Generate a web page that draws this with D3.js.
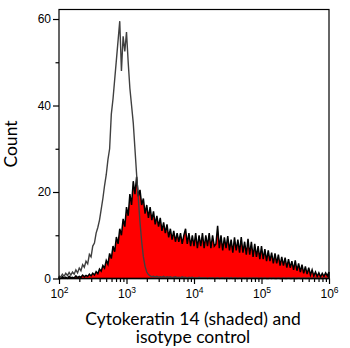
<!DOCTYPE html>
<meta charset="utf-8">
<title>cytokeratin 14 histogram</title>
<style>

body {
  margin: 0;
  background: #fff;
}

svg {
  font-family: Lato, "DejaVu Sans", sans-serif;
}

.frame {
  fill: none;
  stroke: #000;
  stroke-width: 1.2px;
}

.axis path {
  display: none;
}

.axis line {
  stroke: #000;
  stroke-width: 1.2px;
}

.axis text {
  font-size: 12px;
  fill: #000;
}

.shaded {
  fill: #ff0000;
  stroke: #000;
  stroke-width: 1.5px;
  stroke-linejoin: miter;
}

.control {
  fill: none;
  stroke: #404040;
  stroke-width: 1.4px;
}

.title {
  font-size: 17.5px;
  fill: #000;
}

</style>
<body>
<script src="https://cdn.jsdelivr.net/npm/d3@7"></script>
<script>

// channels: log10 fluorescence from 2 to 6, one bin every 0.025 decade
var binStart = 2,
    binStep = 0.025;

// isotype control (open line)
var control = [
  0.6, 0.3, 1.0, 0.5, 1.2, 0.7, 1.4, 0.8, 1.5, 1.0,
  2.0, 1.3, 2.4, 1.8, 3.2, 2.6, 4.0, 3.4, 5.6, 5.0,
  7.5, 8.2, 10.5, 11.8, 13.5, 16.0, 18.5, 21.5, 24.0, 27.5,
  30.0, 38.0, 41.5, 46.0, 50.5, 55.0, 59.5, 48.0, 56.0, 52.5,
  57.0, 50.0, 44.0, 40.0, 36.0, 30.0, 24.0, 18.5, 13.0, 8.5,
  5.0, 2.8, 1.5, 0.9, 0.6, 0.4, 0.5, 0.3, 0.5, 0.3,
  0.4, 0.3, 0.5, 0.2, 0.4, 0.3, 0.4, 0.2, 0.3, 0.4,
  0.2, 0.3, 0.2, 0.4, 0.2, 0.3, 0.1, 0.3, 0.2, 0.3,
  0.1, 0.2, 0.1, 0.3, 0.1, 0.2, 0.1, 0.2, 0.0, 0.2,
  0.1, 0.2, 0.0, 0.1, 0.2, 0.0, 0.1, 0.2, 0.0, 0.1,
  0.1, 0.0, 0.2, 0.0, 0.1, 0.1, 0.0, 0.1, 0.0, 0.1,
  0.0, 0.1, 0.0, 0.1, 0.0, 0.1, 0.0, 0.1, 0.0, 0.0,
  0.1, 0.0, 0.1, 0.0, 0.0, 0.1, 0.0, 0.1, 0.0, 0.0,
  0.1, 0.0, 0.0, 0.1, 0.0, 0.0, 0.1, 0.0, 0.0, 0.1,
  0.0, 0.0, 0.1, 0.0, 0.0, 0.1, 0.0, 0.0, 0.1, 0.0,
  0.0, 0.1, 0.0, 0.0, 0.1, 0.0, 0.0, 0.1, 0.0, 0.0,
  0.1
];

// cytokeratin 14 (shaded)
var shaded = [
  0.2, 0.0, 0.4, 0.1, 0.3, 0.0, 0.5, 0.2, 0.3, 0.1,
  0.6, 0.2, 0.5, 0.3, 0.8, 0.4, 0.7, 0.5, 1.0, 0.6,
  1.2, 0.8, 1.6, 1.1, 2.2, 1.7, 3.0, 2.4, 4.2, 3.3,
  5.8, 4.6, 7.5, 6.2, 9.6, 8.0, 11.5, 10.0, 13.8, 12.0,
  16.5, 14.5, 19.5, 17.0, 22.5, 19.5, 23.5, 19.0, 20.5, 17.0,
  18.5, 15.0, 17.0, 14.0, 16.5, 13.5, 15.5, 12.5, 14.5, 12.0,
  14.0, 11.0, 13.0, 10.5, 12.5, 9.5, 11.5, 9.0, 11.0, 8.5,
  10.5, 8.5, 10.5, 8.0, 10.0, 11.5, 8.0, 10.5, 7.5, 10.0,
  7.5, 10.5, 7.0, 10.0, 7.5, 10.5, 7.0, 10.0, 7.5, 10.5,
  7.0, 10.0, 7.5, 8.0, 12.2, 7.0, 10.0, 6.5, 9.5, 7.0,
  9.8, 6.5, 9.0, 6.0, 9.5, 6.5, 9.0, 6.0, 9.6, 6.0,
  8.5, 5.5, 9.2, 5.5, 8.5, 5.0, 8.0, 5.0, 7.5, 4.5,
  7.5, 4.5, 6.8, 4.0, 6.5, 4.0, 6.0, 3.5, 5.8, 3.5,
  5.5, 3.0, 5.0, 3.0, 4.8, 2.5, 4.5, 2.5, 4.0, 2.0,
  4.2, 1.8, 3.5, 1.5, 3.2, 1.2, 2.8, 1.0, 2.5, 0.8,
  2.0, 0.6, 1.5, 0.5, 1.3, 0.4, 1.2, 0.5, 1.3, 0.6,
  1.5
];

var xTicks = [2, 3, 4, 5, 6],
    yTicks = [0, 20, 40, 60],
    yMinorTicks = [10, 30, 50];

var xTitleLines = ["Cytokeratin 14 (shaded) and", "isotype control"];

var width = 350,
    height = 348,
    plotLeft = 59,
    plotRight = 329,
    plotTop = 9.5,
    plotBottom = 278.5;

var x = d3.scaleLog()
    .domain([1e2, 1e6])
    .range([plotLeft, plotRight]);

var y = d3.scaleLinear()
    .domain([0, 62.2])
    .range([plotBottom, plotTop]);

function points(values) {
  return values.map(function(v, i) {
    return [Math.pow(10, binStart + i * binStep), v];
  });
}

var svg = d3.select("body").append("svg")
    .attr("width", width)
    .attr("height", height);

var area = d3.area()
    .x(function(d) { return x(d[0]); })
    .y0(y(0))
    .y1(function(d) { return y(d[1]); });

var line = d3.line()
    .x(function(d) { return x(d[0]); })
    .y(function(d) { return y(d[1]); });

svg.append("path")
    .datum(points(shaded))
    .attr("class", "shaded")
    .attr("d", area);

svg.append("path")
    .datum(points(control))
    .attr("class", "control")
    .attr("d", line);

svg.append("rect")
    .attr("class", "frame")
    .attr("x", plotLeft)
    .attr("y", plotTop)
    .attr("width", plotRight - plotLeft)
    .attr("height", plotBottom - plotTop);

// minor x ticks at 2..9 of every decade
var xMinor = [];
xTicks.slice(0, -1).forEach(function(p) {
  for (var k = 2; k < 10; k++) xMinor.push(k * Math.pow(10, p));
});

svg.append("g")
    .attr("class", "axis")
    .attr("transform", "translate(0," + plotBottom + ")")
    .call(d3.axisBottom(x).tickValues(xMinor).tickSize(3.5).tickFormat(""));

var xAxis = svg.append("g")
    .attr("class", "axis")
    .attr("transform", "translate(0," + plotBottom + ")")
    .call(d3.axisBottom(x)
        .tickValues(xTicks.map(function(p) { return Math.pow(10, p); }))
        .tickSize(5.5)
        .tickFormat(""));

xAxis.selectAll(".tick text").remove();

xAxis.selectAll(".tick").data(xTicks).append("text")
    .attr("y", 19)
    .attr("text-anchor", "middle")
    .call(function(t) {
      t.append("tspan").text("10");
      t.append("tspan")
          .attr("dy", -4.5)
          .style("font-size", "8.5px")
          .text(function(p) { return p; });
    });

svg.append("g")
    .attr("class", "axis")
    .attr("transform", "translate(" + plotLeft + ",0)")
    .call(d3.axisLeft(y).tickValues(yMinorTicks).tickSize(3.5).tickFormat(""));

svg.append("g")
    .attr("class", "axis")
    .attr("transform", "translate(" + plotLeft + ",0)")
    .call(d3.axisLeft(y).tickValues(yTicks).tickSize(6).tickPadding(2));

svg.append("text")
    .attr("class", "title")
    .attr("transform", "translate(17," + (plotTop + plotBottom) / 2 + ")rotate(-90)")
    .attr("text-anchor", "middle")
    .text("Count");

svg.selectAll(".xtitle")
    .data(xTitleLines)
  .enter().append("text")
    .attr("class", "title xtitle")
    .attr("text-anchor", "middle")
    .attr("x", 193)
    .attr("y", function(d, i) { return 325 + i * 18; })
    .text(function(d) { return d; });

</script>
</body>
